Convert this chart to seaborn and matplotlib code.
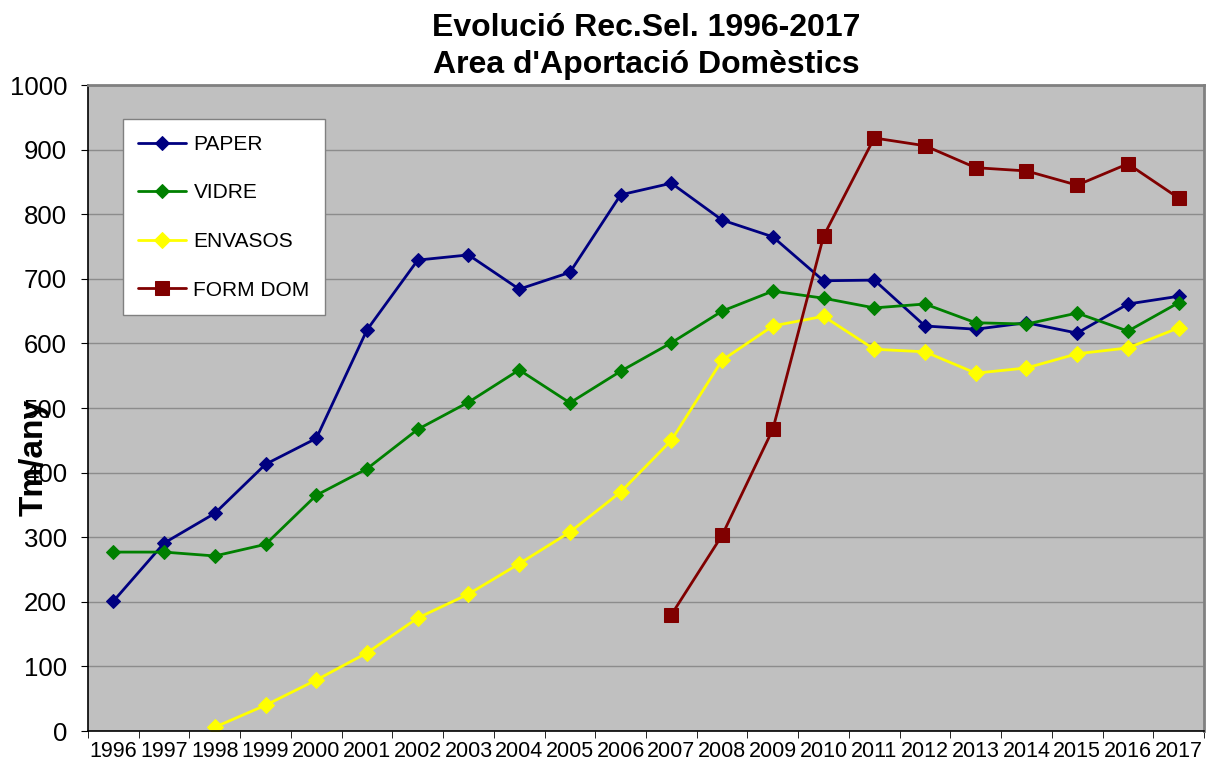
import matplotlib
matplotlib.use('Agg')
import matplotlib.pyplot as plt
import seaborn as sns
import pandas as pd
import numpy as np

# Years (categories)
years = [str(y) for y in range(1996, 2018)]

# Series values (Tm/any)
paper = [201, 291, 337, 413, 453, 621, 729, 737, 684, 710, 830, 848,
         791, 765, 697, 698, 627, 622, 632, 616, 661, 673]
vidre = [277, 277, 271, 289, 365, 406, 467, 509, 559, 508, 557, 601,
         650, 681, 670, 655, 661, 632, 630, 647, 619, 663]
envasos = [None, None, 6, 40, 79, 121, 175, 212, 259, 308, 370, 450,
           574, 627, 642, 591, 587, 554, 562, 584, 593, 624]
form_dom = [None] * 11 + [180, 303, 467, 766, 918, 906, 872, 867, 845, 878, 825]

series_names = ['PAPER', 'VIDRE', 'ENVASOS', 'FORM DOM']
series_colors = ['#000080', '#008000', '#FFFF00', '#800000']
series_markers = ['D', 'D', 'D', 's']
series_sizes = [7.5, 7.5, 8, 10]

df = pd.DataFrame({'idx': range(len(years)), 'PAPER': paper, 'VIDRE': vidre,
                   'ENVASOS': envasos, 'FORM DOM': form_dom})

sns.set_style('white')
plt.rcParams['font.family'] = ['Liberation Sans', 'DejaVu Sans']
plt.rcParams['text.color'] = 'black'
plt.rcParams['axes.labelcolor'] = 'black'
plt.rcParams['xtick.color'] = 'black'
plt.rcParams['ytick.color'] = 'black'

fig = plt.figure(figsize=(12.11, 7.7), dpi=100)
ax = fig.add_axes([0.0727, 0.0506, 0.9215, 0.839])
ax.set_facecolor('#C0C0C0')

for name, col, mk, ms in zip(series_names, series_colors, series_markers, series_sizes):
    sub = df[['idx', name]].dropna()
    sns.lineplot(x=sub['idx'], y=sub[name].astype(float), ax=ax, color=col,
                 marker=mk, markersize=ms, markeredgecolor=col, linewidth=2,
                 label=name)

ax.set_xlim(-0.5, len(years) - 0.5)
ax.set_ylim(0, 1000)
ax.set_yticks(range(0, 1001, 100))
ax.tick_params(axis='y', labelsize=18.5, length=5, direction='out', left=True, pad=10)
ax.set_xticks(range(len(years)))
ax.set_xticklabels(years, fontsize=15.5)
ax.tick_params(axis='x', length=0, pad=7)
ax.set_xticks(np.arange(-0.5, len(years), 1), minor=True)
ax.tick_params(axis='x', which='minor', length=5, direction='out', bottom=True)
ax.grid(axis='y', color='#8C8C8C', linewidth=1)
ax.set_axisbelow(True)
for s in ['left', 'bottom']:
    ax.spines[s].set_color('black')
    ax.spines[s].set_linewidth(1.2)
for s in ['top', 'right']:
    ax.spines[s].set_color('#808080')
    ax.spines[s].set_linewidth(2)

ax.set_xlabel('')
# the axis title sits over the tick labels, as in the original chart
ax.set_ylabel('Tm/any', fontsize=24, fontweight='bold')
ax.yaxis.set_label_coords(-0.034, 0.423)

ax.set_title("Evolució Rec.Sel. 1996-2017\nArea d'Aportació Domèstics",
             fontsize=23, fontweight='bold', pad=9, linespacing=1.3)

leg = ax.legend(loc='upper left', bbox_to_anchor=(0.031, 0.947), fontsize=15,
                frameon=True, fancybox=False, edgecolor='#808080',
                framealpha=1, borderpad=0.75, labelspacing=1.42,
                handlelength=2.3, handletextpad=0.35, borderaxespad=0)
leg.get_frame().set_linewidth(1)

fig.savefig('out.png', dpi=100)
